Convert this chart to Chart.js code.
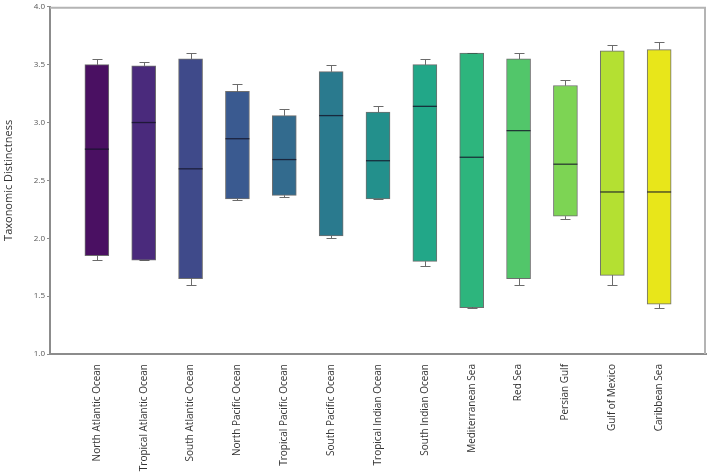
<!DOCTYPE html>
<html>
<head>
<meta charset="utf-8">
<script src="https://cdn.jsdelivr.net/npm/chart.js@4.4.1/dist/chart.umd.min.js"></script>
<style>
  html, body { margin: 0; padding: 0; background: #fff; }
  #wrap { width: 709px; height: 476px; position: relative; }
</style>
</head>
<body>
<div id="wrap"><canvas id="chart"></canvas></div>
<script>
// Data
const categories = ['North Atlantic Ocean', 'Tropical Atlantic Ocean', 'South Atlantic Ocean', 'North Pacific Ocean',
    'Tropical Pacific Ocean', 'South Pacific Ocean', 'Tropical Indian Ocean', 'South Indian Ocean',
    'Mediterranean Sea', 'Red Sea', 'Persian Gulf', 'Gulf of Mexico', 'Caribbean Sea'];
const whiskerMin = [1.81, 1.81, 1.60, 2.33, 2.36, 2.00, 2.34, 1.76, 1.40, 1.60, 2.17, 1.60, 1.40];
const q1 = [1.85, 1.81, 1.65, 2.34, 2.37, 2.02, 2.34, 1.80, 1.40, 1.65, 2.19, 1.68, 1.43];
const median = [2.77, 3.00, 2.60, 2.86, 2.68, 3.06, 2.67, 3.14, 2.70, 2.93, 2.64, 2.40, 2.40];
const q3 = [3.50, 3.49, 3.55, 3.27, 3.06, 3.44, 3.09, 3.50, 3.60, 3.55, 3.32, 3.62, 3.63];
const whiskerMax = [3.55, 3.52, 3.60, 3.33, 3.12, 3.50, 3.14, 3.55, 3.60, 3.60, 3.37, 3.67, 3.70];
const yTicks = [1.0, 1.5, 2.0, 2.5, 3.0, 3.5, 4.0];

// viridis-like fills
const boxColors = ['#4a1062', '#4a2a7c', '#3f4a8a', '#3a5a90', '#336b8e', '#2a7a8e', '#23908c',
    '#22a788', '#2db57d', '#52c66a', '#7dd454', '#b4e032', '#e8e61a'];

// empty slot on each side so the boxes sit one step in from the frame
const labels = [''].concat(categories, ['']);
const boxData = [null].concat(categories.map((c, i) => [q1[i], q3[i]]), [null]);
const fills = ['#fff'].concat(boxColors, ['#fff']);

const boxPlotPlugin = {
    id: 'boxExtras',
    beforeDatasetsDraw(chart) {
        const ctx = chart.ctx;
        const x = chart.scales.x;
        const y = chart.scales.y;
        const area = chart.chartArea;
        ctx.save();
        // top and right frame
        ctx.strokeStyle = '#b4b4b4';
        ctx.lineWidth = 2;
        ctx.beginPath();
        ctx.moveTo(area.left, area.top + 1);
        ctx.lineTo(area.right - 1, area.top + 1);
        ctx.lineTo(area.right - 1, area.bottom);
        ctx.stroke();
        // whiskers
        ctx.strokeStyle = '#6b6b6b';
        ctx.lineWidth = 1;
        categories.forEach((c, i) => {
            const px = Math.round(x.getPixelForValue(i + 1)) + 0.5;
            const segs = [[q3[i], whiskerMax[i]], [q1[i], whiskerMin[i]]];
            segs.forEach(s => {
                const a = y.getPixelForValue(s[0]);
                const b = Math.round(y.getPixelForValue(s[1])) + 0.5;
                ctx.beginPath();
                ctx.moveTo(px, a);
                ctx.lineTo(px, b);
                ctx.moveTo(px - 5, b);
                ctx.lineTo(px + 5, b);
                ctx.stroke();
            });
        });
        ctx.restore();
    },
    afterDatasetsDraw(chart) {
        const ctx = chart.ctx;
        const x = chart.scales.x;
        const y = chart.scales.y;
        ctx.save();
        ctx.strokeStyle = 'rgba(20, 20, 40, 0.8)';
        ctx.lineWidth = 1.3;
        categories.forEach((c, i) => {
            const px = x.getPixelForValue(i + 1);
            const py = y.getPixelForValue(median[i]);
            ctx.beginPath();
            ctx.moveTo(px - 12, py);
            ctx.lineTo(px + 12, py);
            ctx.stroke();
        });
        ctx.restore();
    }
};

new Chart(document.getElementById('chart'), {
    type: 'bar',
    data: {
        labels: labels,
        datasets: [{
            data: boxData,
            backgroundColor: fills,
            borderColor: 'rgba(50, 50, 50, 0.7)',
            borderWidth: 1,
            borderSkipped: false,
            barThickness: 24
        }]
    },
    options: {
        responsive: true,
        maintainAspectRatio: false,
        animation: false,
        layout: { padding: { top: 2, right: 3, left: 2, bottom: 0 } },
        plugins: {
            legend: { display: false },
            tooltip: { enabled: false }
        },
        scales: {
            x: {
                offset: false,
                grid: { display: false, drawTicks: false },
                border: { display: true, color: '#8c8c8c', width: 2 },
                ticks: {
                    autoSkip: false,
                    maxRotation: 90,
                    minRotation: 90,
                    padding: 10,
                    color: '#333',
                    font: { family: "'Open Sans', sans-serif", size: 10 }
                },
                afterFit(scale) {
                    scale.height = 122;
                    // the blank end labels should not pull the frame inwards
                    scale.paddingLeft = 0;
                    scale.paddingRight = 0;
                }
            },
            y: {
                min: 1,
                max: 4,
                afterBuildTicks(scale) { scale.ticks = yTicks.map(v => ({ value: v })); },
                grid: { display: true, drawOnChartArea: false, drawTicks: true, tickLength: 3, color: '#8c8c8c' },
                border: { display: true, color: '#8c8c8c', width: 2 },
                ticks: {
                    padding: 2,
                    color: '#555',
                    font: { family: "'Open Sans', sans-serif", size: 8 },
                    callback: v => Number(v).toFixed(1)
                },
                title: {
                    display: true,
                    text: 'Taxonomic Distinctness',
                    color: '#333',
                    padding: { top: 0, bottom: 10 },
                    font: { family: "'Open Sans', sans-serif", size: 11 }
                },
                afterFit(scale) { scale.width = 48; }
            }
        }
    },
    plugins: [boxPlotPlugin]
});
</script>
</body>
</html>
